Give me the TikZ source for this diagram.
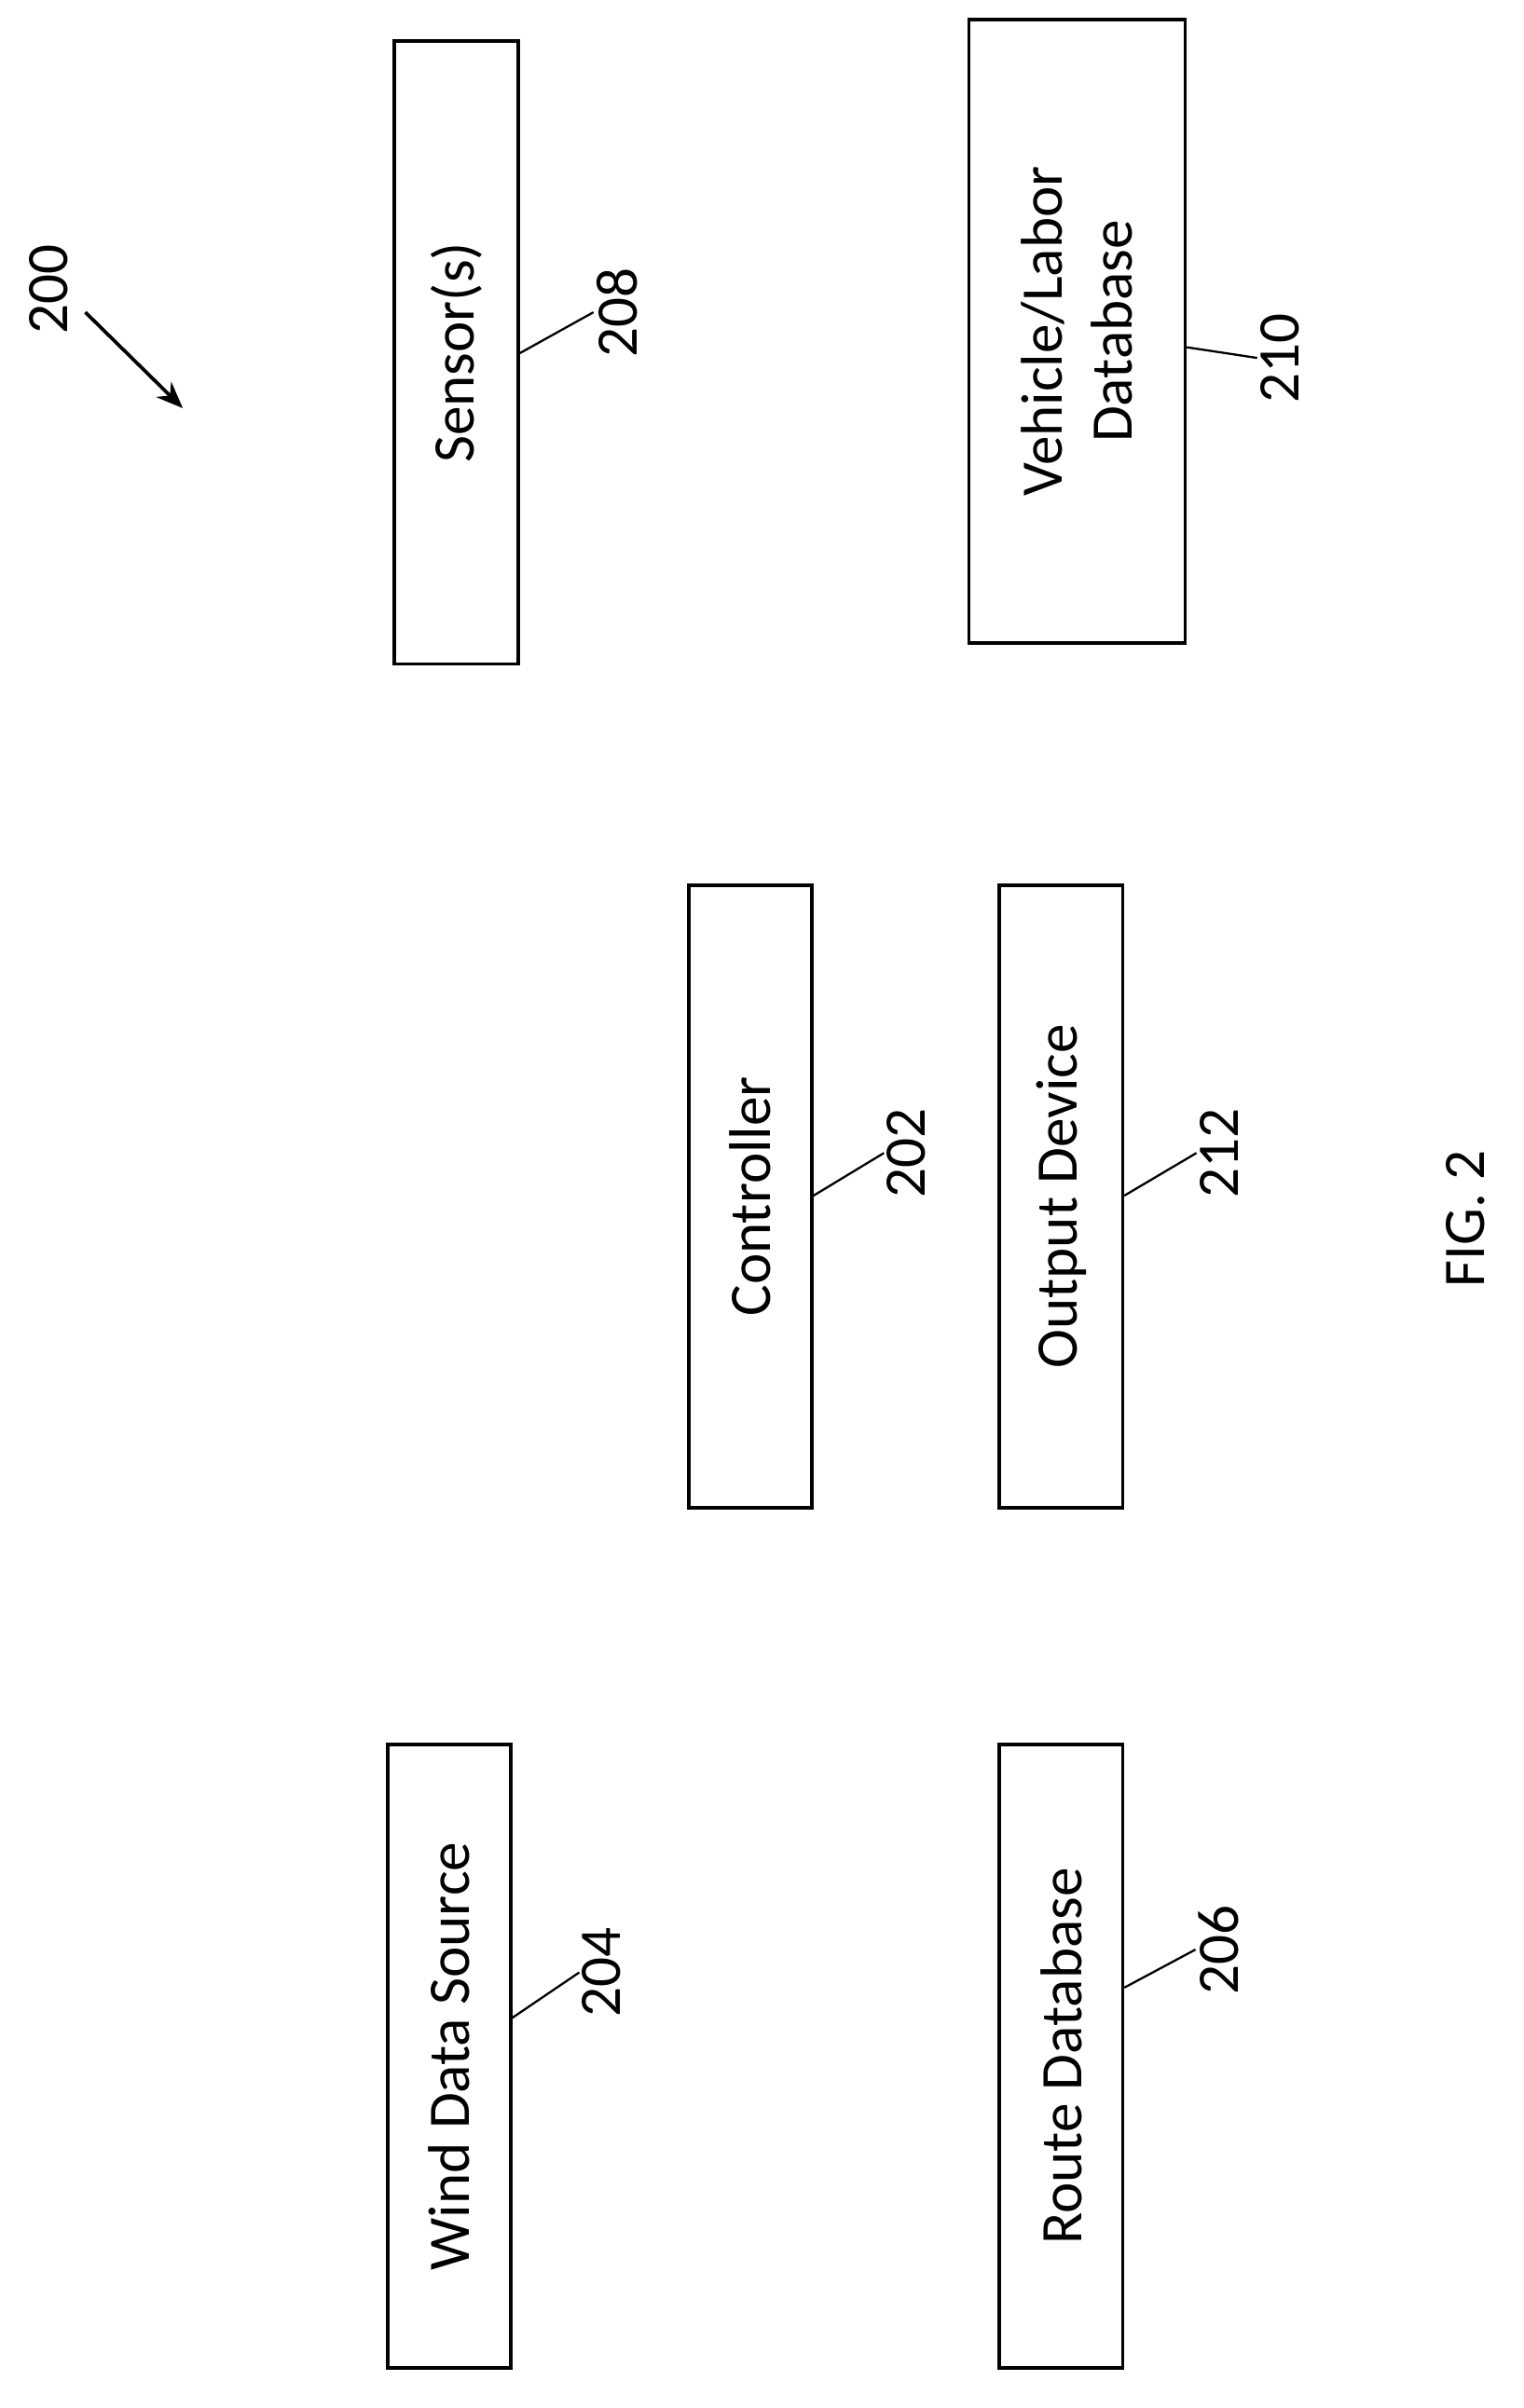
\documentclass[tikz,border=0pt]{standalone}
\usepackage{fontspec}
\setmainfont{Carlito}
\usetikzlibrary{arrows.meta,calc,positioning}
\tikzset{
  blk/.style={draw, line width=1.3pt, rotate=90, minimum width=8.18cm, minimum height=1.62cm, inner sep=0pt, font=\fontsize{22}{26}\selectfont, align=center},
  refnum/.style={rotate=90, font=\fontsize{22}{26}\selectfont, inner sep=1pt},
  leader/.style={line width=0.8pt}
}
\begin{document}
\begin{tikzpicture}[x=0.02cm, y=-0.02cm]
  \useasboundingbox (0,0) rectangle (1000,1581);
  % blocks
  \node[blk] (sens) at (299.5,231.5) {Sensor(s)};
  \node[blk, minimum height=2.84cm] (vdb) at (707,217.5) {Vehicle/Labor\\Database};
  \node[blk] (ctrl) at (492.5,785.5) {Controller};
  \node[blk] (out) at (696.5,785.5) {Output Device};
  \node[blk] (wind) at (295,1350) {Wind Data Source};
  \node[blk] (rdb) at (696.5,1350) {Route Database};
  % reference numerals
  \node[refnum] (n208) at (405,205) {208};
  \node[refnum] (n210) at (840,235) {210};
  \node[refnum] (n202) at (595,757) {202};
  \node[refnum] (n212) at (800,757) {212};
  \node[refnum] (n204) at (395,1295) {204};
  \node[refnum] (n206) at (800,1280) {206};
  \node[refnum] (n200) at (32,190) {200};
  \node[rotate=90, font=\fontsize{22}{26}\selectfont] (fig) at (962,800) {FIG. 2};
  % leaders
  \draw[leader] (341,232) -- (n208.north);
  \draw[leader] (779,228) -- (n210.north);
  \draw[leader] (534,785) -- (n202.north);
  \draw[leader] (738,785) -- (n212.north);
  \draw[leader] (336,1325) -- (n204.north);
  \draw[leader] (738,1305) -- (n206.north);
  \coordinate (tip) at (120,268);
  \draw[line width=1.3pt, -{Stealth[length=10pt,width=8pt]}] (56,205) -- (tip);
\end{tikzpicture}
\end{document}
